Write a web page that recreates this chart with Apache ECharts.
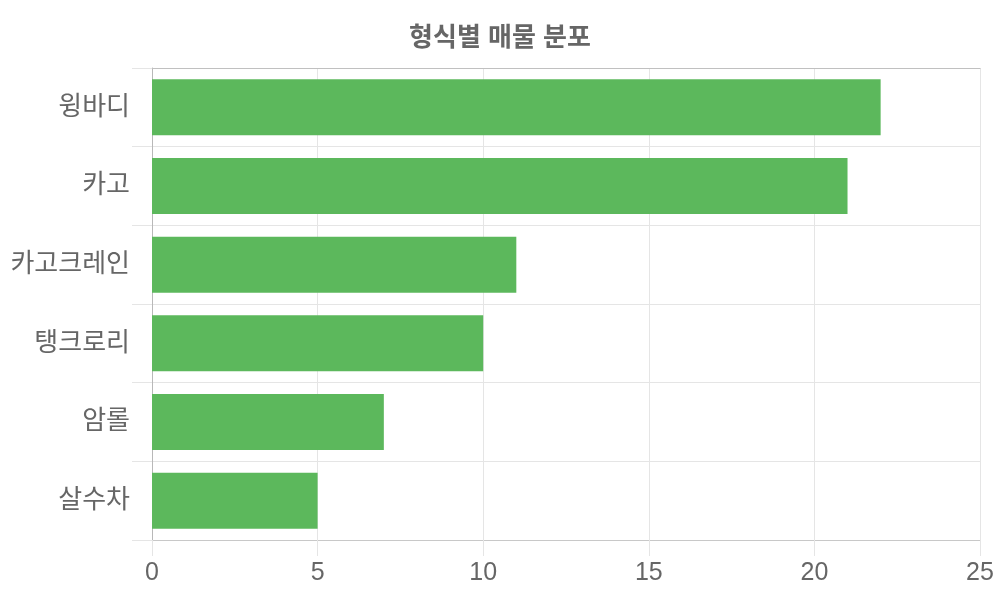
<!DOCTYPE html>
<html>
<head>
<meta charset="utf-8">
<script src="https://cdn.jsdelivr.net/npm/echarts@6/dist/echarts.min.js"></script>
<style>
  html, body { margin: 0; padding: 0; background: #fff; }
  #main { width: 1000px; height: 600px; }
</style>
</head>
<body>
<div id="main"></div>
<script>
// 형식별 매물 분포
var categories = ['윙바디', '카고', '카고크레인', '탱크로리', '암롤', '살수차'];
var counts = [22, 21, 11, 10, 7, 5];
var xTicks = [0, 5, 10, 15, 20, 25];

var font = "'Liberation Sans', 'Noto Sans CJK KR', sans-serif";
var myChart = echarts.init(document.getElementById('main'));

var option = {
    animation: false,
    title: {
        text: '형식별 매물 분포',
        left: 'center',
        top: 21,
        textStyle: {fontFamily: font, fontSize: 26, fontWeight: 'bold', color: '#666'}
    },
    grid: {left: 152, right: 20, top: 68, bottom: 60, containLabel: false},
    xAxis: [
        {
            type: 'value',
            min: xTicks[0],
            max: xTicks[xTicks.length - 1],
            interval: 5,
            axisLine: {show: true, lineStyle: {color: '#c8c8c8', width: 1}},
            axisTick: {show: true, length: 16, lineStyle: {color: '#e5e5e5'}},
            axisLabel: {margin: 21, fontFamily: font, fontSize: 25, color: '#666'},
            splitLine: {show: true, lineStyle: {color: '#e5e5e5'}}
        },
        {
            type: 'value',
            position: 'top',
            min: 0,
            max: 25,
            axisLine: {show: true, lineStyle: {color: '#c0c0c0', width: 1}},
            axisTick: {show: false},
            axisLabel: {show: false},
            splitLine: {show: false}
        }
    ],
    yAxis: {
        type: 'category',
        inverse: true,
        data: categories,
        axisLine: {show: true, lineStyle: {color: '#b8b8b8', width: 1}},
        axisTick: {show: true, length: 20, lineStyle: {color: '#e5e5e5'}},
        axisLabel: {margin: 22, fontFamily: font, fontSize: 26, color: '#666'},
        splitLine: {show: true, lineStyle: {color: '#e5e5e5'}}
    },
    series: [
        {
            name: '매물',
            type: 'bar',
            xAxisIndex: 0,
            barWidth: 56,
            itemStyle: {color: '#5cb85c'},
            data: counts
        }
    ]
};

myChart.setOption(option);
</script>
</body>
</html>
